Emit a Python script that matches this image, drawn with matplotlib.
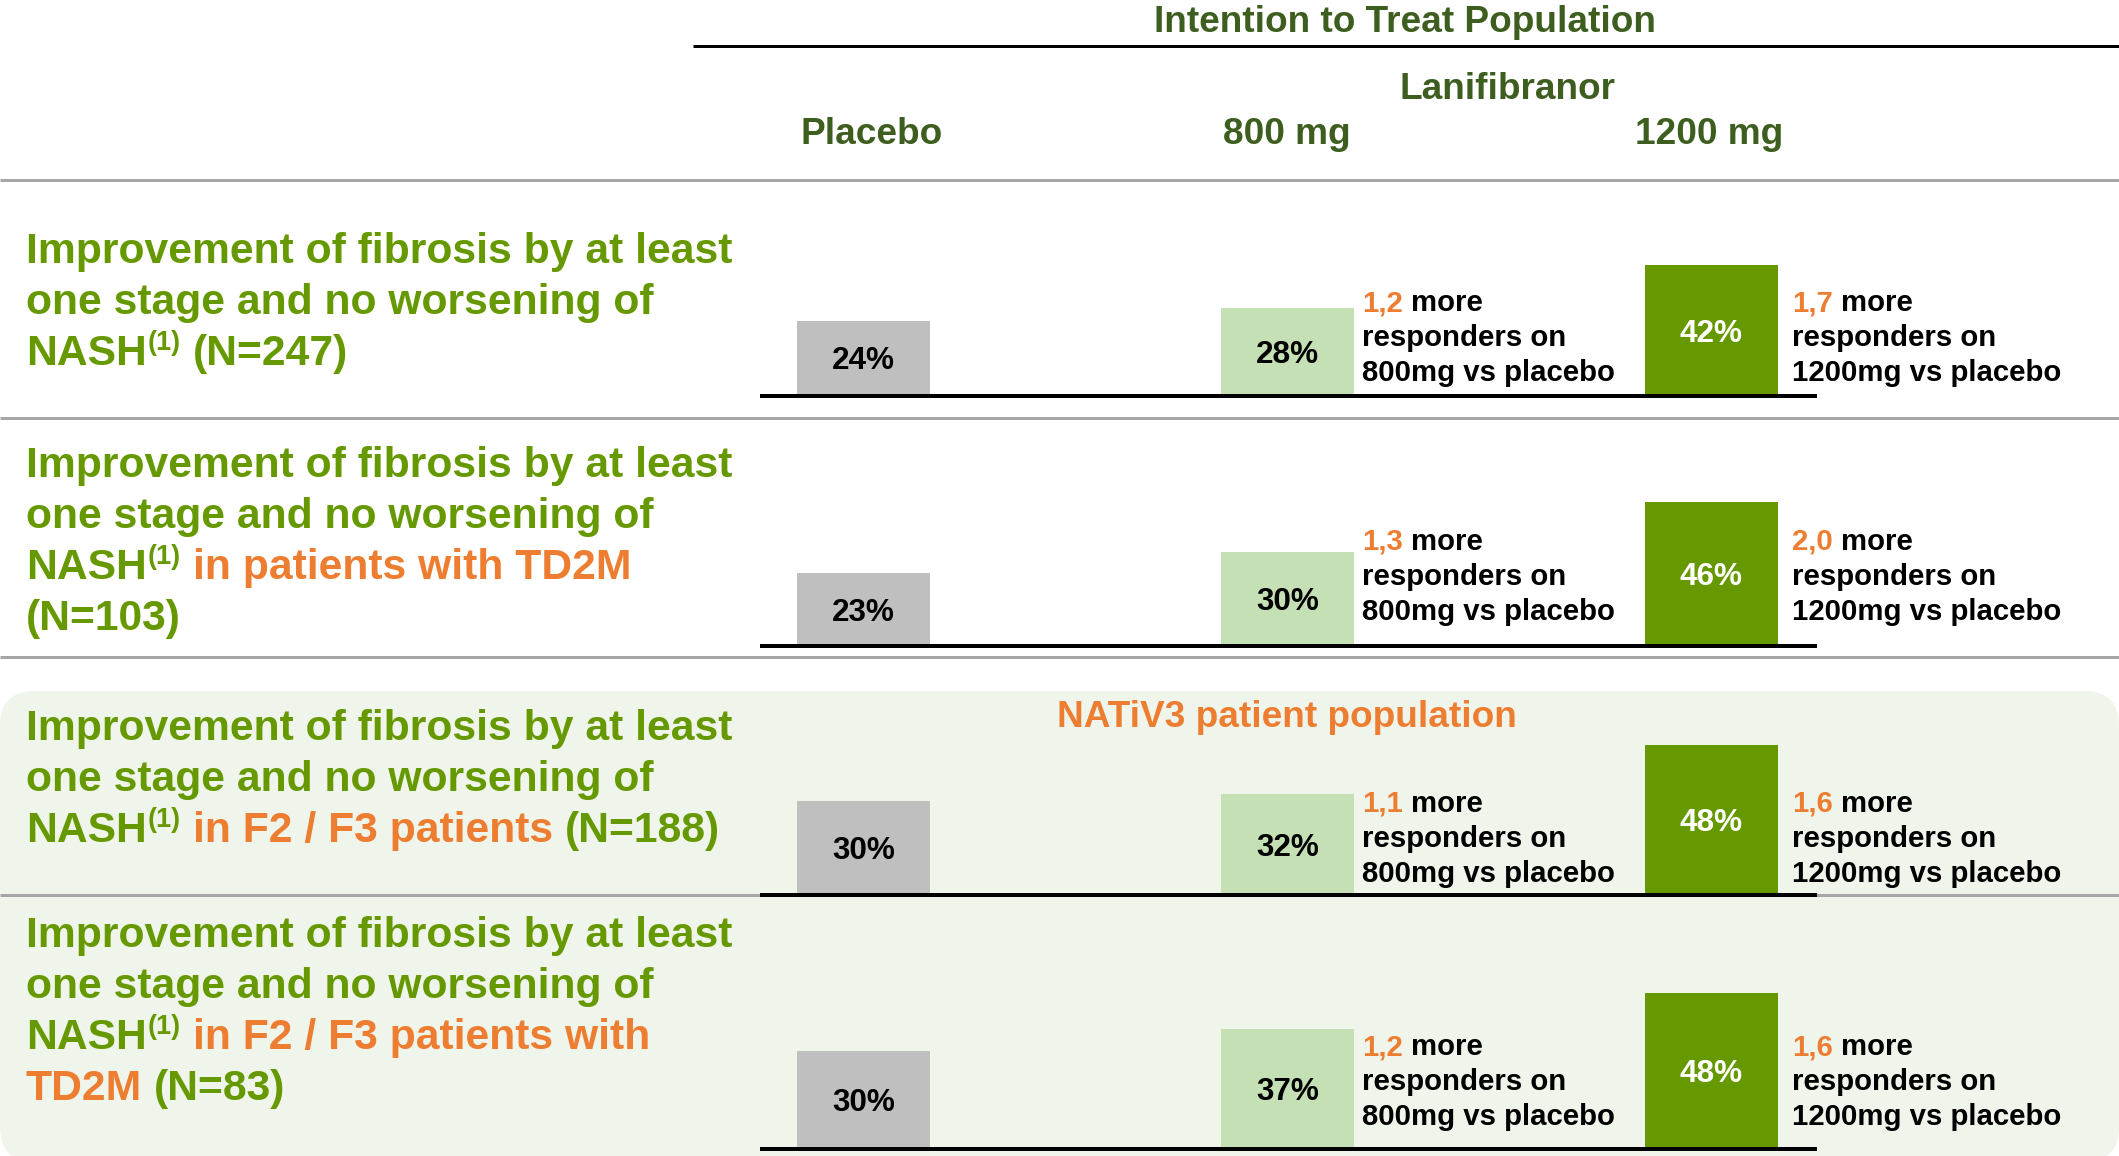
import matplotlib

matplotlib.use("Agg")
import matplotlib.pyplot as plt
from matplotlib.patches import FancyBboxPatch


W, H = 2119, 1156
DPI = 100

# values (one entry per endpoint row)
ROW_N = [247, 103, 188, 83]
PLACEBO = [24, 23, 30, 30]
DOSE_800 = [28, 30, 32, 37]
DOSE_1200 = [42, 46, 48, 48]
RATIO_800 = ["1,2", "1,3", "1,1", "1,2"]
RATIO_1200 = ["1,7", "2,0", "1,6", "1,6"]
GROUPS = ["Placebo", "800 mg", "1200 mg"]

LINE1 = "Improvement of fibrosis by at least"
LINE2 = "one stage and no worsening of"
# third/fourth line runs: (text, colour key); "sup" is the footnote marker
ROW_TAIL = [
    [[("NASH", "g"), ("(1)", "sup"), (f" (N={ROW_N[0]})", "g")]],
    [[("NASH", "g"), ("(1)", "sup"), (" in patients with TD2M", "o")],
     [(f"(N={ROW_N[1]})", "g")]],
    [[("NASH", "g"), ("(1)", "sup"), (" in F2 / F3 patients", "o"), (f" (N={ROW_N[2]})", "g")]],
    [[("NASH", "g"), ("(1)", "sup"), (" in F2 / F3 patients with", "o")],
     [("TD2M", "o"), (f" (N={ROW_N[3]})", "g")]],
]

GREEN = "#669900"
LIGHT_GREEN = "#c5e0b4"
GREY_BAR = "#bfbfbf"
DARK_GREEN = "#3d5e1f"
ORANGE = "#ed7d31"
PANEL = "#f0f5eb"
RULE_GREY = "#a6a6a6"
FONT = "Liberation Sans"

COLOURS = {"g": GREEN, "o": ORANGE, "k": "black", "sup": GREEN}

# layout, in pixels measured from the top of the slide
BASELINES = [394, 644, 893, 1147]
PX_PER_PCT = [3.06, 3.08, 3.08, 3.2]
AXIS_LEFT, AXIS_RIGHT = 760, 1817
XLIM = (-0.244, 2.249)
BAR_WIDTH = 0.314
LABEL_TOP = [263, 477, 740, 947]
LABEL_STEP = 51
NOTE_TOP = [311, 550, 812, 1055]
NOTE_STEP = 35
NOTE_X = [1362, 1792]
RULES = [180, 418, 657, 895]

PT = 0.72  # points per pixel at 100 dpi
SIZE_LABEL = 42.6 * PT
SIZE_HEAD = 37 * PT
SIZE_BAR = 31.5 * PT
SIZE_NOTE = 29.4 * PT
SIZE_SUP = 27 * PT


def draw_runs(ax, renderer, x, y, runs, size):
    for text, key in runs:
        if text.startswith(" "):
            x += 0.278 * size / PT
            text = text.lstrip()
        if key == "sup":
            t = ax.text(x + 1, y - 15, text, fontsize=SIZE_SUP, color=COLOURS[key],
                        fontweight="bold", family=FONT, va="baseline", ha="left")
        else:
            t = ax.text(x, y, text, fontsize=size, color=COLOURS[key],
                        fontweight="bold", family=FONT, va="baseline", ha="left")
        x += t.get_window_extent(renderer).width + (1 if key == "sup" else 0)
    return x


def draw_frame(fig, ax):
    ax.set_xlim(0, W)
    ax.set_ylim(H, 0)
    ax.axis("off")

    panel = FancyBboxPatch((0, 691), W, 471, boxstyle="round,pad=0,rounding_size=35",
                           facecolor=PANEL, edgecolor="none")
    ax.add_patch(panel)

    for y in RULES:
        ax.plot([0, W], [y, y], color=RULE_GREY, lw=3 * PT, solid_capstyle="butt")
    ax.plot([693, W], [46, 46], color="black", lw=3 * PT, solid_capstyle="butt")

    head = dict(fontsize=SIZE_HEAD, fontweight="bold", family=FONT, ha="center", va="baseline")
    ax.text(1405, 32, "Intention to Treat Population", color=DARK_GREEN, **head)
    ax.text(1507, 99, "Lanifibranor", color=DARK_GREEN, **head)
    for xc, name in zip([872, 1287, 1709], GROUPS):
        ax.text(xc, 144, name, color=DARK_GREEN, **head)
    ax.text(1287, 727, "NATiV3 patient population", color=ORANGE, **head)


def draw_labels(fig, ax):
    renderer = fig.canvas.get_renderer()
    for i, tail in enumerate(ROW_TAIL):
        lines = [[(LINE1, "g")], [(LINE2, "g")]] + tail
        for j, runs in enumerate(lines):
            draw_runs(ax, renderer, 26, LABEL_TOP[i] + j * LABEL_STEP, runs, SIZE_LABEL)

        for x0, ratio, dose in zip(NOTE_X, [RATIO_800[i], RATIO_1200[i]], ["800mg", "1200mg"]):
            y0 = NOTE_TOP[i]
            draw_runs(ax, renderer, x0, y0, [(ratio, "o"), (" more", "k")], SIZE_NOTE)
            draw_runs(ax, renderer, x0, y0 + NOTE_STEP, [("responders on", "k")], SIZE_NOTE)
            draw_runs(ax, renderer, x0, y0 + 2 * NOTE_STEP, [(f"{dose} vs placebo", "k")], SIZE_NOTE)


def draw_bars(fig):
    for i in range(len(PLACEBO)):
        ppp = PX_PER_PCT[i]
        below = 4 / ppp
        top = 55
        height_px = (top + below) * ppp
        bottom_px = BASELINES[i] + 4
        ax = fig.add_axes([AXIS_LEFT / W, (H - bottom_px) / H,
                           (AXIS_RIGHT - AXIS_LEFT) / W, height_px / H])
        ax.patch.set_alpha(0)
        ax.set_xlim(*XLIM)
        ax.set_ylim(-below, top)
        ax.axis("off")

        values = [PLACEBO[i], DOSE_800[i], DOSE_1200[i]]
        ax.bar(range(3), values, width=BAR_WIDTH, color=[GREY_BAR, LIGHT_GREEN, GREEN])
        ax.axhline(-2 / ppp, color="black", lw=4 * PT)

        for x, v, c in zip(range(3), values, ["black", "black", "white"]):
            ax.annotate(f"{v}%", (x, v / 2), xytext=(0, -4), textcoords="offset pixels",
                        ha="center", va="center", fontsize=SIZE_BAR, fontweight="bold",
                        family=FONT, color=c)


def main() -> None:
    fig = plt.figure(figsize=(W / DPI, H / DPI), dpi=DPI)
    base = fig.add_axes([0, 0, 1, 1])
    draw_frame(fig, base)
    draw_labels(fig, base)
    draw_bars(fig)
    fig.savefig("out.png", dpi=DPI, facecolor="white")
    plt.close(fig)


if __name__ == "__main__":
    main()
